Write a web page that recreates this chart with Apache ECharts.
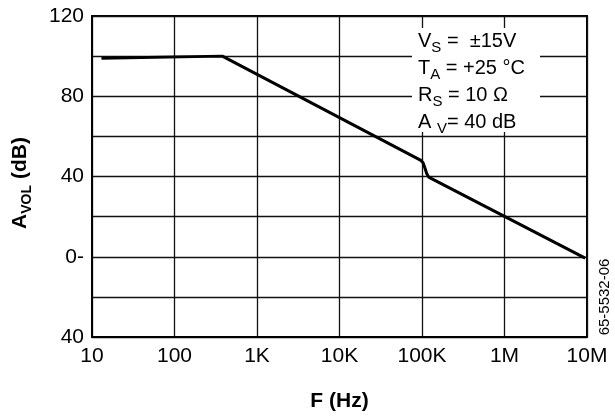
<!DOCTYPE html>
<html>
<head>
<meta charset="utf-8">
<script src="https://cdn.jsdelivr.net/npm/echarts@6/dist/echarts.min.js"></script>
<style>
html,body{margin:0;padding:0;background:#fff;}
#chart{width:615px;height:420px;}
</style>
</head>
<body>
<div id="chart"></div>
<script>
// Frequency (Hz) and open-loop gain (dB)
var freqHz = [13, 380, 97000, 103000, 108000, 114000, 120000, 127000, 9500000];
var gainDb = [99, 100, 48, 46.8, 44.5, 41.5, 39.8, 39.2, -0.7];

// Axis tick labels
var xTickValues = [10, 100, 1000, 10000, 100000, 1000000, 10000000];
var xTickLabels = ['10', '100', '1K', '10K', '100K', '1M', '10M'];
var yTickValues = [120, 80, 40, 0, -40];
var yTickLabels = ['120', '80', '40', '0-', '40'];

var FONT = '"Liberation Sans", Arial, sans-serif';

var chart = echarts.init(document.getElementById('chart'), null, {renderer: 'canvas'});

var seriesData = freqHz.map(function (f, i) { return [f, gainDb[i]]; });

chart.setOption({
  animation: false,
  backgroundColor: '#fff',
  grid: {
    left: 92, right: 28, top: 16, bottom: 83,
    show: true, borderColor: '#000', borderWidth: 2
  },
  xAxis: {
    type: 'log',
    logBase: 10,
    min: 10,
    max: 10000000,
    name: 'F (Hz)',
    nameLocation: 'middle',
    nameGap: 54,
    nameTextStyle: {fontFamily: FONT, fontSize: 21, fontWeight: 'bold', color: '#000'},
    axisLine: {show: true, onZero: false, lineStyle: {color: '#000', width: 2}},
    axisTick: {show: false},
    axisLabel: {
      fontFamily: FONT, fontSize: 21, color: '#000', margin: 9,
      formatter: function (v) {
        var idx = xTickValues.indexOf(Math.round(v));
        return idx >= 0 ? xTickLabels[idx] : '';
      }
    },
    splitLine: {show: true, lineStyle: {color: '#111', width: 1.3}}
  },
  yAxis: {
    type: 'value',
    min: -40,
    max: 120,
    interval: 20,
    name: '{a|A}{s|VOL}{a| (dB)}',
    nameLocation: 'middle',
    nameGap: 58,
    nameRotate: 90,
    nameTextStyle: {
      fontFamily: FONT, fontSize: 21, fontWeight: 'bold', color: '#000',
      padding: [0, 13, 0, 0],
      rich: {
        a: {fontFamily: FONT, fontSize: 21, fontWeight: 'bold', color: '#000', lineHeight: 24},
        s: {fontFamily: FONT, fontSize: 14, fontWeight: 'bold', color: '#000', lineHeight: 28, verticalAlign: 'bottom'}
      }
    },
    axisLine: {show: true, onZero: false, lineStyle: {color: '#000', width: 2}},
    axisTick: {show: false},
    axisLabel: {
      fontFamily: FONT, fontSize: 21, color: '#000', margin: 8,
      formatter: function (v) {
        var idx = yTickValues.indexOf(v);
        return idx >= 0 ? yTickLabels[idx] : '';
      }
    },
    splitLine: {show: true, lineStyle: {color: '#111', width: 1.3}}
  },
  series: [{
    type: 'line',
    data: seriesData,
    showSymbol: false,
    smooth: false,
    lineStyle: {color: '#000', width: 3},
    z: 3
  }],
  graphic: [
    {
      type: 'rect',
      shape: {x: 412, y: 28, width: 128, height: 104},
      style: {fill: '#fff'},
      z: 10
    },
    {
      type: 'text',
      x: 418, y: 28,
      z: 11,
      style: {
        text: 'V{s|S} =  ±15V\nT{s|A} = +25 °C\nR{s|S} = 10 Ω\nA {s|V}= 40 dB',
        fontFamily: FONT, fontSize: 20, fill: '#000',
        lineHeight: 25,
        verticalAlign: 'top',
        rich: {
          s: {fontFamily: FONT, fontSize: 15, fill: '#000', lineHeight: 27, verticalAlign: 'bottom'}
        }
      }
    },
    {
      type: 'text',
      x: 605, y: 297,
      rotation: Math.PI / 2,
      z: 11,
      style: {
        text: '65-5532-06',
        fontFamily: FONT, fontSize: 15, fill: '#000',
        align: 'center', verticalAlign: 'middle'
      }
    }
  ]
});
</script>
</body>
</html>
